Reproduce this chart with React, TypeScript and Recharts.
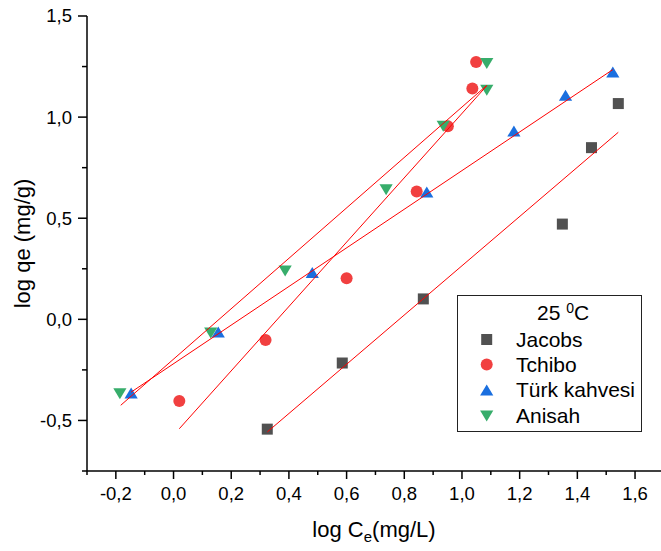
import React from 'react';
import { ScatterChart, Scatter, XAxis, YAxis, Legend } from 'recharts';

const FONT = "'Liberation Sans', Arial, sans-serif";

// Series names and colours
const seriesNames = ['Jacobs', 'Tchibo', 'Türk kahvesi', 'Anisah'];
const seriesColors = ['#515151', '#F14040', '#1A6FDF', '#37AD6B'];
const fitColor = '#FF0000';

// Measured points (log Ce, log qe)
const jacobsX = [0.325, 0.585, 0.866, 1.348, 1.449, 1.542];
const jacobsY = [-0.543, -0.216, 0.101, 0.471, 0.849, 1.067];
const tchiboX = [0.02, 0.319, 0.6, 0.843, 0.951, 1.036, 1.049];
const tchiboY = [-0.404, -0.102, 0.203, 0.632, 0.955, 1.141, 1.273];
const turkX = [-0.147, 0.155, 0.481, 0.878, 1.18, 1.359, 1.523];
const turkY = [-0.364, -0.063, 0.232, 0.63, 0.931, 1.108, 1.223];
const anisahX = [-0.186, 0.129, 0.387, 0.737, 0.935, 1.086, 1.086];
const anisahY = [-0.368, -0.068, 0.239, 0.641, 0.955, 1.133, 1.265];

// Linear fit line end points
const jacobsFitX = [0.325, 1.542];
const jacobsFitY = [-0.557, 0.925];
const tchiboFitX = [0.02, 1.086];
const tchiboFitY = [-0.541, 1.155];
const turkFitX = [-0.147, 1.523];
const turkFitY = [-0.36, 1.235];
const anisahFitX = [-0.183, 1.086];
const anisahFitY = [-0.425, 1.157];

// Axis ticks
const xTicks = [-0.3, -0.2, -0.1, 0, 0.1, 0.2, 0.3, 0.4, 0.5, 0.6, 0.7, 0.8, 0.9, 1.0, 1.1, 1.2, 1.3, 1.4, 1.5, 1.6];
const yTicks = [-0.75, -0.5, -0.25, 0, 0.25, 0.5, 0.75, 1.0, 1.25, 1.5];
const xDomain = [-0.3, 1.69];
const yDomain = [-0.75, 1.5];

const zip = (xs: number[], ys: number[]) => xs.map((x, i) => ({ x, y: ys[i] }));
const fmt = (v: number) => v.toFixed(1).replace('.', ',');

const SquareShape = (p: any) => (
  <rect x={p.cx - 5.5} y={p.cy - 5.5} width={11} height={11} fill={seriesColors[0]} />
);
const CircleShape = (p: any) => <circle cx={p.cx} cy={p.cy} r={6} fill={seriesColors[1]} />;
const UpShape = (p: any) => (
  <path d={`M${p.cx},${p.cy - 5.5}L${p.cx + 6.6},${p.cy + 5.5}L${p.cx - 6.6},${p.cy + 5.5}Z`} fill={seriesColors[2]} />
);
const DownShape = (p: any) => (
  <path d={`M${p.cx},${p.cy + 5.5}L${p.cx + 6.6},${p.cy - 5.5}L${p.cx - 6.6},${p.cy - 5.5}Z`} fill={seriesColors[3]} />
);
const NoShape = () => <g />;

const markerFor = (i: number, cx: number, cy: number) => {
  const shapes = [SquareShape, CircleShape, UpShape, DownShape];
  const S = shapes[i];
  return <S cx={cx} cy={cy} />;
};

const XTick = (props: any) => {
  const { x, y, payload } = props;
  const v = payload.value;
  const major = Math.abs(Math.round(v * 10)) % 2 === 0;
  return (
    <g>
      <line x1={x} y1={y} x2={x} y2={y + (major ? 8 : 4)} stroke="#000" strokeWidth={1.5} />
      {major && (
        <text x={x} y={y + 23} dy="0.35em" textAnchor="middle" fontSize={18.5} fontFamily={FONT} fill="#000">
          {fmt(v)}
        </text>
      )}
    </g>
  );
};

const YTick = (props: any) => {
  const { x, y, payload } = props;
  const v = payload.value;
  const major = Math.abs(Math.round(v * 100)) % 50 === 0;
  return (
    <g>
      <line x1={x - (major ? 9 : 5)} y1={y} x2={x} y2={y} stroke="#000" strokeWidth={1.5} />
      {major && (
        <text x={x - 15} y={y} dy="0.35em" textAnchor="end" fontSize={18.5} fontFamily={FONT} fill="#000">
          {fmt(v)}
        </text>
      )}
    </g>
  );
};

const XTitle = (props: any) => {
  const vb = props.viewBox || { x: 87, y: 471, width: 574, height: 80 };
  return (
    <text x={vb.x + vb.width / 2} y={vb.y + 66} textAnchor="middle" fontSize={22} fontFamily={FONT} fill="#000">
      <tspan>log C</tspan>
      <tspan dy={5} fontSize={15}>e</tspan>
      <tspan dy={-5}>(mg/L)</tspan>
    </text>
  );
};

const YTitle = (props: any) => {
  const vb = props.viewBox || { x: 0, y: 16, width: 87, height: 455 };
  const cx = vb.x + 22;
  const cy = vb.y + vb.height / 2;
  return (
    <text
      x={cx}
      y={cy}
      dy="0.35em"
      textAnchor="middle"
      transform={`rotate(-90, ${cx}, ${cy})`}
      fontSize={22}
      fontFamily={FONT}
      fill="#000"
    >
      log qe (mg/g)
    </text>
  );
};

const rowMarkerY = [44.5, 69.5, 95, 121];
const rowTextY = [51.5, 76.5, 102, 127.5];

const LegendBox = () => (
  <svg width={186} height={138} style={{ display: 'block' }}>
    <rect x={0.5} y={0.5} width={184} height={136} fill="#fff" stroke="#222" strokeWidth={1} />
    <text x={80} y={25} fontSize={21} fontFamily={FONT} fill="#000">
      <tspan>25 </tspan>
      <tspan dy={-7} fontSize={14}>0</tspan>
      <tspan dy={7}>C</tspan>
    </text>
    {seriesNames.map((n, i) => (
      <g key={n}>
        {markerFor(i, 29.7, rowMarkerY[i])}
        <text x={59} y={rowTextY[i]} fontSize={21} fontFamily={FONT} fill="#000">
          {n}
        </text>
      </g>
    ))}
  </svg>
);

export default function App() {
  return (
    <div style={{ position: 'absolute', left: 0, top: 0, background: '#fff' }}>
      <ScatterChart width={661} height={551} margin={{ top: 16, right: 0, bottom: 0, left: 0 }}>
        <XAxis
          type="number"
          dataKey="x"
          domain={xDomain}
          ticks={xTicks}
          interval={0}
          allowDataOverflow
          height={80}
          tickSize={0}
          tickMargin={0}
          tickLine={false}
          axisLine={{ stroke: '#000', strokeWidth: 1.5 }}
          tick={XTick}
          label={<XTitle />}
        />
        <YAxis
          type="number"
          dataKey="y"
          domain={yDomain}
          ticks={yTicks}
          interval={0}
          allowDataOverflow
          width={87}
          tickSize={0}
          tickMargin={0}
          tickLine={false}
          axisLine={{ stroke: '#000', strokeWidth: 1.5 }}
          tick={YTick}
          label={<YTitle />}
        />
        <Legend
          layout="vertical"
          align="center"
          verticalAlign="middle"
          content={() => <LegendBox />}
          wrapperStyle={{ position: 'absolute', left: 457, top: 295, width: 186, height: 138 }}
        />
        <Scatter name={seriesNames[0]} data={zip(jacobsX, jacobsY)} fill={seriesColors[0]} shape={SquareShape} isAnimationActive={false} />
        <Scatter name={seriesNames[1]} data={zip(tchiboX, tchiboY)} fill={seriesColors[1]} shape={CircleShape} isAnimationActive={false} />
        <Scatter name={seriesNames[2]} data={zip(turkX, turkY)} fill={seriesColors[2]} shape={UpShape} isAnimationActive={false} />
        <Scatter name={seriesNames[3]} data={zip(anisahX, anisahY)} fill={seriesColors[3]} shape={DownShape} isAnimationActive={false} />
        <Scatter name="fit1" legendType="none" data={zip(jacobsFitX, jacobsFitY)} line={{ stroke: fitColor, strokeWidth: 1 }} shape={NoShape} isAnimationActive={false} />
        <Scatter name="fit2" legendType="none" data={zip(tchiboFitX, tchiboFitY)} line={{ stroke: fitColor, strokeWidth: 1 }} shape={NoShape} isAnimationActive={false} />
        <Scatter name="fit3" legendType="none" data={zip(turkFitX, turkFitY)} line={{ stroke: fitColor, strokeWidth: 1 }} shape={NoShape} isAnimationActive={false} />
        <Scatter name="fit4" legendType="none" data={zip(anisahFitX, anisahFitY)} line={{ stroke: fitColor, strokeWidth: 1 }} shape={NoShape} isAnimationActive={false} />
      </ScatterChart>
    </div>
  );
}
